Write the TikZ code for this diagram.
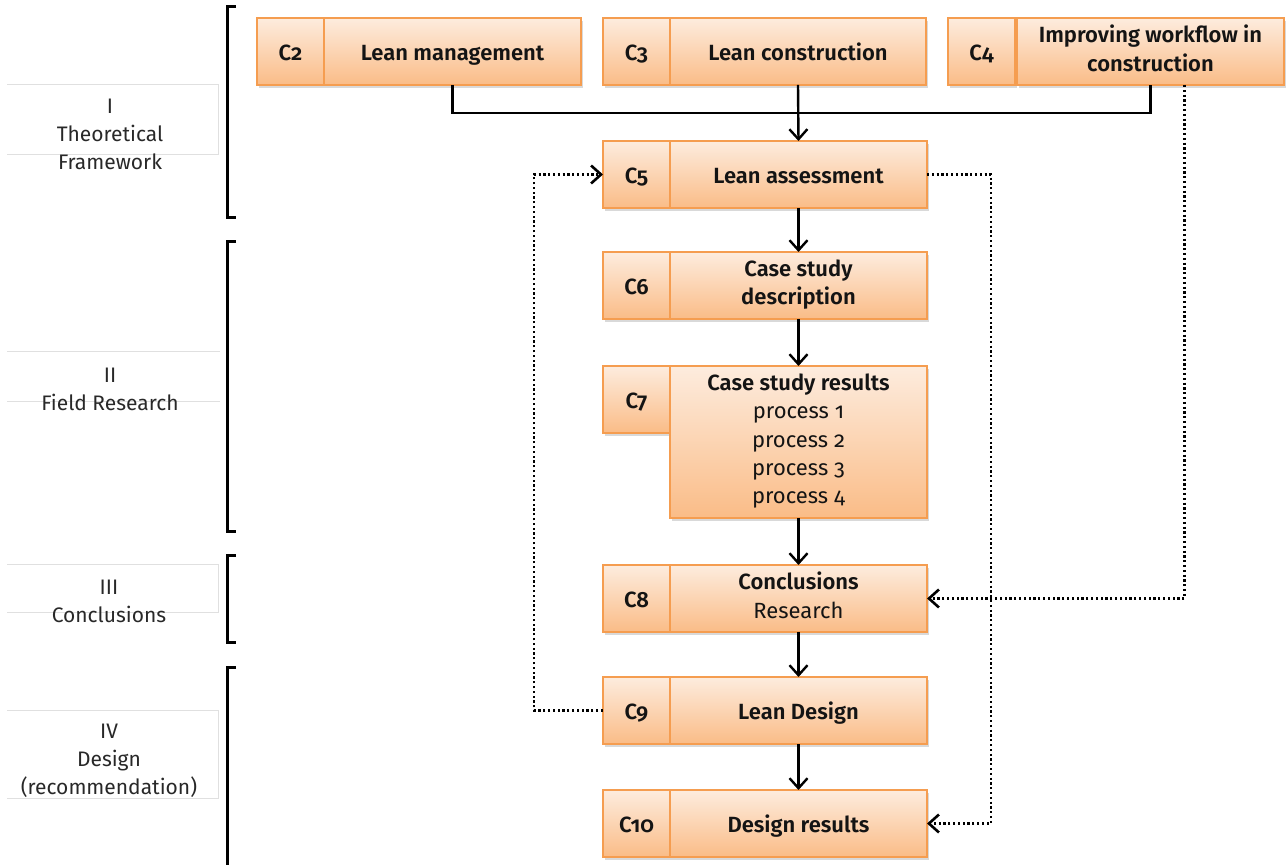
\documentclass[tikz,border=0pt]{standalone}
\usepackage{fontspec}
\setmainfont{Fira Sans}[Numbers=OldStyle, BoldFont={Fira Sans SemiBold}]
\usetikzlibrary{arrows.meta,shadows}

\definecolor{boxtop}{RGB}{253,236,222}
\definecolor{boxbot}{RGB}{250,188,135}
\definecolor{boxline}{RGB}{245,157,80}
\definecolor{frameline}{RGB}{224,224,224}
\definecolor{ink}{RGB}{20,20,20}
\definecolor{phaseink}{RGB}{40,40,40}

% invisible rule that fixes the height of the first and the depth of the last line
\newcommand\boxstrut{\rule[-3.3pt]{0pt}{15.3pt}}

\begin{document}
\begin{tikzpicture}[x=0.5pt,y=-0.5pt,
  chap/.style={draw=boxline, line width=0.8pt, top color=boxtop, bottom color=boxbot,
    drop shadow={shadow xshift=1.2pt, shadow yshift=-1.6pt, opacity=0.3},
    inner sep=1pt, outer sep=0pt, anchor=north west, align=center, text=ink,
    font=\fontsize{11pt}{14.2pt}\selectfont\bfseries, minimum height=33.5pt,
    execute at begin node=\boxstrut, execute at end node=\boxstrut},
  num/.style={chap, minimum width=33.5pt},
  title/.style={chap, minimum width=128.5pt},
  phase/.style={align=center, text=phaseink, font=\fontsize{10.5pt}{14pt}\selectfont},
  frame/.style={draw=frameline, line width=0.5pt},
  bracket/.style={line width=1.5pt, black},
  flow/.style={line width=1.2pt, black, -{Straight Barb[length=5pt,width=9pt]}},
  link/.style={line width=1.2pt, black},
  feedback/.style={line width=1.3pt, black, dash pattern=on 1.1pt off 1.3pt,
    -{Straight Barb[length=5pt,width=9pt]}},
]
\useasboundingbox (0,0) rectangle (1286,865);

% phase labels with their faint frames
\draw[frame] (7,85) -- (218,85) -- (218,155) -- (7,155);
\draw[frame] (7,352) -- (220,352) (7,402) -- (220,402);
\draw[frame] (7,565) -- (218,565) -- (218,613) -- (7,613);
\draw[frame] (7,711) -- (218,711) -- (218,799) -- (7,799);
\node[phase] (p1) at (110,134) {I\\Theoretical\\Framework};
\node[phase] (p2) at (110,389) {II\\Field Research};
\node[phase] (p3) at (109,601) {III\\Conclusions};
\node[phase] (p4) at (109,761) {IV\\Design\\(recommendation)};

% phase brackets
\draw[bracket] (236,7) -- (227,7) -- (227,218) -- (236,218);
\draw[bracket] (236,242) -- (227,242) -- (227,532) -- (236,532);
\draw[bracket] (236,556) -- (227,556) -- (227,643) -- (236,643);
\draw[bracket] (236,668) -- (227,668) -- (227,870);

% chapter boxes
\node[num] (c2n) at (257,18) {C2};
\node[title, minimum width=128.5pt] (c2) at (324,18) {Lean management};
\node[num] (c3n) at (603,18) {C3};
\node[title, minimum width=128pt] (c3) at (670,18) {Lean construction};
\node[num] (c4n) at (948,18) {C4};
\node[title, minimum width=133.5pt] (c4) at (1017,18) {Improving workflow in\\construction};

\node[num] (c5n) at (603,141) {C5};
\node[title] (c5) at (670,141) {Lean assessment};
\node[num] (c6n) at (603,252) {C6};
\node[title] (c6) at (670,252) {Case study\\description};
\node[num] (c7n) at (603,366) {C7};
\node[title, minimum height=76pt] (c7) at (670,366)
  {Case study results\\\textmd{process 1}\\\textmd{process 2}\\\textmd{process 3}\\\textmd{process 4}};
\node[num] (c8n) at (603,565) {C8};
\node[title] (c8) at (670,565) {Conclusions\\\textmd{Research}};
\node[num] (c9n) at (603,677) {C9};
\node[title] (c9) at (670,677) {Lean Design};
\node[num] (c10n) at (603,790) {C10};
\node[title] (c10) at (670,790) {Design results};

% main flow
\coordinate (join) at (798,113);
\draw[link] (c2.south) |- (join) -| (c4.south);
\draw[flow] (c3.south) -- (c5.north);
\draw[flow] (c5.south) -- (c6.north);
\draw[flow] (c6.south) -- (c7.north);
\draw[flow] (c7.south) -- (c8.north);
\draw[flow] (c8.south) -- (c9.north);
\draw[flow] (c9.south) -- (c10.north);

% feedback links
\draw[feedback] ([xshift=17pt]c4.south) |- (c8.east);
\draw[feedback] (c5.east) -- ++(64,0) |- (c10.east);
\draw[feedback] (c9n.west) -- ++(-69,0) |- (c5n.west);
\end{tikzpicture}
\end{document}
